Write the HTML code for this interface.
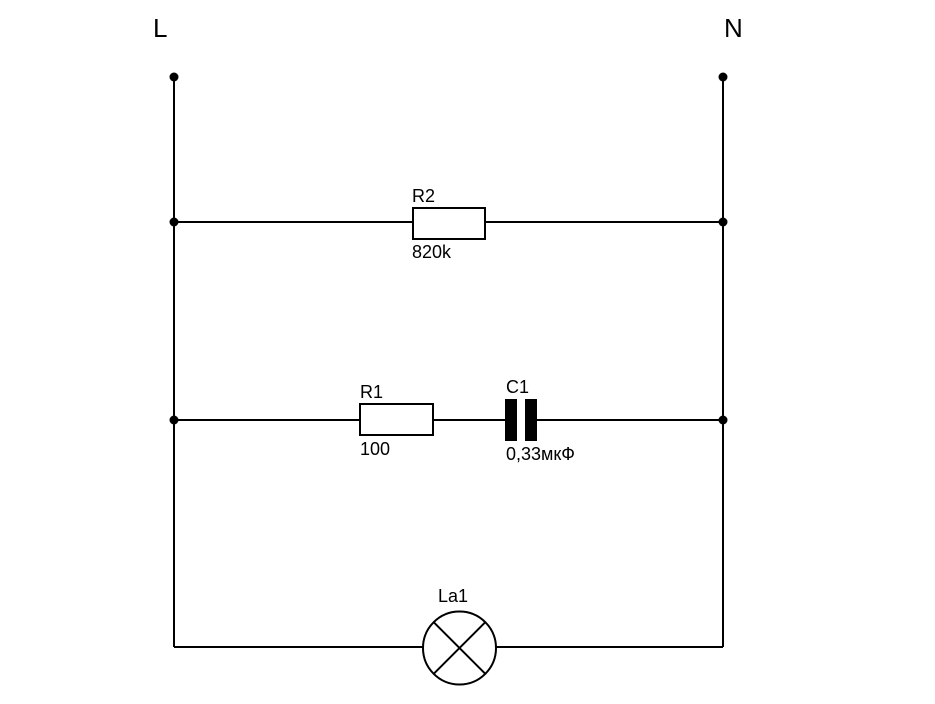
<!DOCTYPE html>
<html><head><style>body{margin:0;background:#fff}</style></head><body>
<svg width="935" height="699" xmlns="http://www.w3.org/2000/svg" font-family="Liberation Sans, sans-serif">
<rect width="935" height="699" fill="#fff"/>
<g stroke="#000" stroke-width="2" fill="none">
<line x1="174" y1="77" x2="174" y2="647"/>
<line x1="723" y1="77" x2="723" y2="647"/>
<line x1="174" y1="222" x2="413" y2="222"/>
<line x1="485" y1="222" x2="723" y2="222"/>
<rect x="413" y="208" width="72" height="31" fill="#fff"/>
<line x1="174" y1="420" x2="360" y2="420"/>
<line x1="433" y1="420" x2="505" y2="420"/>
<line x1="537" y1="420" x2="723" y2="420"/>
<rect x="360" y="404" width="73" height="31" fill="#fff"/>
<line x1="174" y1="647" x2="423" y2="647"/>
<line x1="496" y1="647" x2="723" y2="647"/>
<circle cx="459.5" cy="648" r="36.5" fill="#fff"/>
<line x1="433.7" y1="622.2" x2="485.3" y2="673.8"/>
<line x1="485.3" y1="622.2" x2="433.7" y2="673.8"/>
</g>
<rect x="505" y="399" width="12" height="42" fill="#000"/>
<rect x="525" y="399" width="12" height="42" fill="#000"/>
<g fill="#000">
<circle cx="174" cy="77" r="4.5"/><circle cx="723" cy="77" r="4.5"/>
<circle cx="174" cy="222" r="4.5"/><circle cx="723" cy="222" r="4.5"/>
<circle cx="174" cy="420" r="4.5"/><circle cx="723" cy="420" r="4.5"/>
</g>
<g fill="#000" font-size="18">
<text x="412" y="202">R2</text>
<text x="412" y="258">820k</text>
<text x="360" y="398">R1</text>
<text x="360" y="455">100</text>
<text x="506" y="393">C1</text>
<text x="506" y="460">0,33мкФ</text>
<text x="438" y="602">La1</text>
</g>
<g fill="#000" font-size="26">
<text x="153" y="37">L</text>
<text x="724" y="37">N</text>
</g>
</svg>
</body></html>
